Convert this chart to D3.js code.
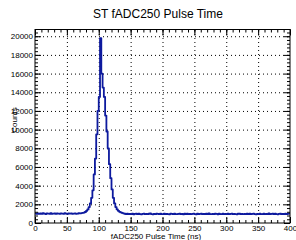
<!DOCTYPE html>
<html>
<head>
<meta charset="utf-8">
<script src="https://cdn.jsdelivr.net/npm/d3@7"></script>
<style>
body { margin: 0; background: #fff; }
svg { display: block; font-family: "Liberation Sans", Arial, Helvetica, sans-serif; }
</style>
</head>
<body>
<div class="chart"></div>
<script>
var title = "ST fADC250 Pulse Time";
var xTitle = "fADC250 Pulse Time (ns)";
var yTitle = "Counts";
var xTicks = [0, 50, 100, 150, 200, 250, 300, 350, 400];
var yTicks = [0, 2000, 4000, 6000, 8000, 10000, 12000, 14000, 16000, 18000, 20000];
var binWidth = 2;

// counts per 2 ns bin, 0..400 ns
var countsBefore = [1010, 980, 1040, 990, 1020, 970, 1050, 1000, 960, 1030,
  1010, 990, 1060, 980, 1000, 1020, 970, 1040, 1010, 990,
  1030, 1000, 980, 1050, 1010, 970, 1020, 1000, 1040, 990,
  1010, 1030, 980, 1000, 1050, 1020, 1060, 1080, 1120, 1180];
var countsPeak = [1300, 1450, 1700, 2100, 2700, 3500, 5200, 6900, 9500, 12000,
  13500, 19800, 16000, 14500, 13500, 11500, 9800, 8000, 6300, 4800,
  3600, 2700, 2100, 1700, 1450, 1300, 1200, 1130, 1080, 1040];
var countsAfter = [990, 960, 1010, 940, 980, 950, 1000, 930, 970, 990,
  950, 1010, 960, 930, 980, 1000, 940, 970, 950, 990,
  1020, 960, 930, 980, 950, 1000, 970, 940, 990, 960,
  950, 1010, 940, 980, 960, 930, 990, 970, 950, 1000,
  960, 940, 980, 1010, 950, 970, 930, 990, 960, 1000,
  940, 980, 950, 970, 1010, 960, 930, 990, 950, 980,
  1000, 940, 970, 960, 990, 950, 1020, 960, 940, 980,
  950, 1000, 970, 930, 990, 960, 950, 1010, 940, 980,
  960, 990, 950, 970, 1000, 940, 980, 960, 930, 990,
  1010, 950, 970, 940, 980, 960, 1000, 950, 990, 940,
  970, 1010, 960, 930, 980, 950, 1000, 960, 940, 990,
  960, 980, 950, 1020, 940, 970, 990, 950, 1000, 960,
  930, 980, 1010, 950, 970, 940, 990, 960, 980, 1000];

var counts = countsBefore.concat(countsPeak, countsAfter);

var width = 296, height = 240;
var svg = d3.select("div.chart").append("svg")
    .attr("width", width)
    .attr("height", height);

var x = d3.scaleLinear().domain([0, 400]).range([35, 290]);
var y = d3.scaleLinear().domain([0, 20720]).range([223, 29.5]);

var x0 = x.range()[0], x1 = x.range()[1];
var yb = y.range()[0], yt = y.range()[1];
var plotH = yb - yt, plotW = x1 - x0;

// grid
svg.append("g")
    .attr("transform", "translate(0," + yb + ")")
    .call(d3.axisBottom(x).tickValues(xTicks.slice(1, -1)).tickSize(-plotH).tickFormat(""))
    .call(function(g) { g.select(".domain").remove(); })
    .selectAll("line")
      .attr("stroke", "#000")
      .attr("stroke-dasharray", "1,3");
svg.append("g")
    .attr("transform", "translate(" + x0 + ",0)")
    .call(d3.axisLeft(y).tickValues(yTicks.slice(1)).tickSize(-plotW).tickFormat(""))
    .call(function(g) { g.select(".domain").remove(); })
    .selectAll("line")
      .attr("stroke", "#000")
      .attr("stroke-dasharray", "1,3");

// histogram
var edges = counts.map(function(d, i) { return i * binWidth; });
var stepData = counts.map(function(d, i) { return [edges[i], d]; });
stepData.push([counts.length * binWidth, counts[counts.length - 1]]);
var line = d3.line()
    .x(function(d) { return x(d[0]); })
    .y(function(d) { return y(d[1]); })
    .curve(d3.curveStepAfter);
svg.append("path")
    .datum(stepData)
    .attr("fill", "none")
    .attr("stroke", "#0d1a9e")
    .attr("stroke-width", 1.8)
    .attr("stroke-linejoin", "round")
    .attr("d", line);

// ticks, pointing inward
var xMinor = d3.range(0, 401, 10);
var yMinor = d3.range(0, 20720, 400);
function styleAxis(g) {
  g.select(".domain").remove();
  g.selectAll("line").attr("stroke", "#000");
  g.selectAll("text").attr("fill", "#000").attr("font-size", "8px");
}
svg.append("g")
    .attr("transform", "translate(0," + yb + ")")
    .call(d3.axisBottom(x).tickValues(xMinor).tickSize(-3).tickFormat(""))
    .call(styleAxis);
svg.append("g")
    .attr("transform", "translate(0," + yb + ")")
    .call(d3.axisBottom(x).tickValues(xTicks).tickSize(-6).tickPadding(2).tickFormat(d3.format("d")))
    .call(styleAxis);
svg.append("g")
    .attr("transform", "translate(0," + yt + ")")
    .call(d3.axisTop(x).tickValues(xMinor).tickSize(-3).tickFormat(""))
    .call(styleAxis);
svg.append("g")
    .attr("transform", "translate(0," + yt + ")")
    .call(d3.axisTop(x).tickValues(xTicks).tickSize(-6).tickFormat(""))
    .call(styleAxis);
svg.append("g")
    .attr("transform", "translate(" + x0 + ",0)")
    .call(d3.axisLeft(y).tickValues(yMinor).tickSize(-3).tickFormat(""))
    .call(styleAxis);
svg.append("g")
    .attr("transform", "translate(" + x0 + ",0)")
    .call(d3.axisLeft(y).tickValues(yTicks).tickSize(-6).tickPadding(2).tickFormat(d3.format("d")))
    .call(styleAxis);
svg.append("g")
    .attr("transform", "translate(" + x1 + ",0)")
    .call(d3.axisRight(y).tickValues(yMinor).tickSize(-3).tickFormat(""))
    .call(styleAxis);
svg.append("g")
    .attr("transform", "translate(" + x1 + ",0)")
    .call(d3.axisRight(y).tickValues(yTicks).tickSize(-6).tickFormat(""))
    .call(styleAxis);

// frame
svg.append("rect")
    .attr("x", x0)
    .attr("y", yt)
    .attr("width", plotW)
    .attr("height", plotH)
    .attr("fill", "none")
    .attr("stroke", "#000")
    .attr("stroke-width", 1);

svg.append("text")
    .attr("x", 158)
    .attr("y", 18)
    .attr("text-anchor", "middle")
    .attr("font-size", "12px")
    .text(title);

svg.append("text")
    .attr("x", 156)
    .attr("y", 239)
    .attr("text-anchor", "middle")
    .attr("font-size", "8px")
    .text(xTitle);

svg.append("text")
    .attr("transform", "translate(17,120) rotate(-90)")
    .attr("text-anchor", "middle")
    .attr("font-size", "8px")
    .text(yTitle);
</script>
</body>
</html>
